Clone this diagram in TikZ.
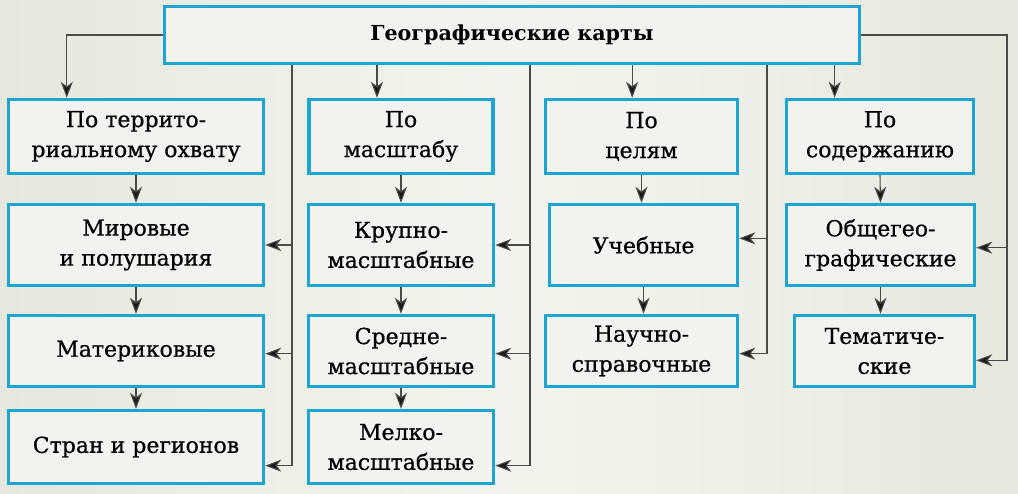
\documentclass[tikz,border=0pt]{standalone}
\usepackage{fontspec}
\setmainfont{DejaVu Serif}
\newfontfamily\boxfont{DejaVu Serif}[FakeBold=0.6]
\usetikzlibrary{arrows.meta}

\definecolor{mapbg}{HTML}{E6E8DF}
\definecolor{mapmid}{HTML}{F3F4EF}
\definecolor{mapfill}{HTML}{F2F3EE}
\definecolor{mapframe}{HTML}{1DA5D2}
\definecolor{mapline}{HTML}{4A4A4A}

\begin{document}
\begin{tikzpicture}[x=0.75pt, y=-0.75pt,
    box/.style={draw=mapframe, line width=2.6pt, fill=mapfill, align=center,
                inner sep=0pt, font=\boxfont\fontsize{16.5}{22.5}\selectfont},
    arr/.style={draw=mapline, line width=0.8pt,
                -{Stealth[length=12pt, width=9pt, inset=3.5pt, fill=black!90]}}]
  % background
  \shade[left color=mapbg, right color=mapbg, middle color=mapmid] (0,0) rectangle (1018,493);
  \useasboundingbox (0,0) rectangle (1018,493);

  % title
  \node[box, minimum width=521.25pt, minimum height=42.75pt,
        font=\fontsize{15.5}{22.5}\selectfont\bfseries] (title) at (512,35) {Географические карты};

  % first row
  \node[box, minimum width=191.25pt, minimum height=55.5pt] (terr) at (136,136.5) {По террито-\\риальному охвату};
  \node[box, minimum width=138pt, minimum height=55.5pt] (scale) at (401,136.5) {По\\масштабу};
  \node[box, minimum width=144pt, minimum height=55.5pt] (goal) at (641.5,136.5) {По\\целям};
  \node[box, minimum width=140.25pt, minimum height=55.5pt] (cont) at (880,136.5) {По\\содержанию};

  % by territory
  \node[box, minimum width=191.25pt, minimum height=60.75pt] (world) at (136,245) {Мировые\\и полушария};
  \node[box, minimum width=191.25pt, minimum height=53.25pt] (cont1) at (136,351) {Материковые};
  \node[box, minimum width=191.25pt, minimum height=54.75pt] (country) at (136,447) {Стран и регионов};

  % by scale
  \node[box, minimum width=138.75pt, minimum height=60.75pt] (large) at (401,245) {Крупно-\\масштабные};
  \node[box, minimum width=138.75pt, minimum height=53.25pt] (medium) at (401,351) {Средне-\\масштабные};
  \node[box, minimum width=138.75pt, minimum height=54.75pt] (small) at (401,447) {Мелко-\\масштабные};

  % by goal
  \node[box, minimum width=141pt, minimum height=60.75pt] (study) at (643.5,245) {Учебные};
  \node[box, minimum width=144pt, minimum height=53.25pt] (sci) at (641.5,351) {Научно-\\справочные};

  % by content
  \node[box, minimum width=141pt, minimum height=60.75pt] (gen) at (880.5,245) {Общегео-\\графические};
  \node[box, minimum width=135pt, minimum height=53.25pt] (them) at (884.5,351) {Тематиче-\\ские};

  % spines
  \coordinate (spineA) at (292,65);
  \coordinate (spineB) at (530,65);
  \coordinate (spineC) at (767,65);
  \coordinate (spineD) at (1007,35);

  % from the title
  \draw[arr] (title.west) -| ([xshift=45pt]terr.north west);
  \draw[arr] ([xshift=-18pt]scale.north |- title.south) -- ([xshift=-18pt]scale.north);
  \draw[arr] ([xshift=-7pt]goal.north |- title.south) -- ([xshift=-7pt]goal.north);
  \draw[arr] ([xshift=-34pt]cont.north |- title.south) -- ([xshift=-34pt]cont.north);
  \draw[arr] (title.east) -- (spineD) |- ([yshift=-2pt]gen.east);
  \draw[arr] (spineD) |- ([yshift=-7pt]them.east);

  % side branches
  \draw[arr] (spineA) |- (world.east);
  \draw[arr] (spineA) |- ([yshift=-2pt]cont1.east);
  \draw[arr] (spineA) |- ([yshift=-14pt]country.east);
  \draw[arr] (spineB) |- (large.east);
  \draw[arr] (spineB) |- ([yshift=-2pt]medium.east);
  \draw[arr] (spineB) |- ([yshift=-14pt]small.east);
  \draw[arr] (spineC) |- ([yshift=5pt]study.east);
  \draw[arr] (spineC) |- ([yshift=-2pt]sci.east);

  % down the columns
  \draw[arr] (terr.south) -- (world.north);
  \draw[arr] (world.south) -- (cont1.north);
  \draw[arr] (cont1.south) -- (country.north);
  \draw[arr] (scale.south) -- (large.north);
  \draw[arr] (large.south) -- (medium.north);
  \draw[arr] (medium.south) -- (small.north);
  \draw[arr] (goal.south) -- (goal.south |- study.north);
  \draw[arr] (study.south) -- (study.south |- sci.north);
  \draw[arr] (cont.south) -- (gen.north);
  \draw[arr] (gen.south) -- (gen.south |- them.north);
\end{tikzpicture}
\end{document}
